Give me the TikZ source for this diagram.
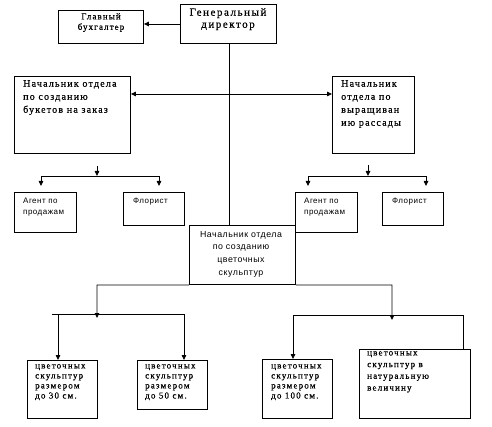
\documentclass[tikz,border=0pt]{standalone}
\usepackage{fontspec}
\setmainfont{Liberation Serif}
\newfontfamily\gdfont[LetterSpace=14,FakeBold=0.5]{Liberation Serif}
\newfontfamily\midfont[LetterSpace=12,FakeBold=0.5]{Liberation Serif}
\newfontfamily\botfont[LetterSpace=13,FakeBold=0.5]{Liberation Serif}
\newfontfamily\smsans[LetterSpace=6]{Liberation Sans}
\usetikzlibrary{arrows.meta}
\begin{document}
\begin{tikzpicture}[x=1pt,y=-1pt,
  box/.style={draw,line width=0.9pt,inner sep=0pt,anchor=north west},
  conn/.style={line width=0.8pt},
  arr/.style={conn,-{Triangle[length=5pt,width=4.5pt]}},
  dblarr/.style={conn,{Triangle[length=5pt,width=4.5pt]}-{Triangle[length=5pt,width=4.5pt]}},
  txt/.style={inner sep=0pt,align=left,anchor=north west},
  gdtxt/.style={inner sep=0pt,align=center,anchor=north,font=\gdfont\fontsize{11}{12}\selectfont},
  buhtxt/.style={inner sep=0pt,align=center,anchor=north,font=\midfont\fontsize{9}{10.5}\selectfont},
  midtxt/.style={txt,font=\midfont\fontsize{10}{13}\selectfont},
  bottxt/.style={txt,font=\botfont\fontsize{9}{10}\selectfont},
  sanstxt/.style={txt,font=\smsans\fontsize{8}{11}\selectfont},
  ctrtxt/.style={inner sep=0pt,align=center,anchor=north,font=\smsans\fontsize{8.8}{12.7}\selectfont}
]
\useasboundingbox (0,0) rectangle (492,427);

% boxes
\node[box,minimum width=96pt,minimum height=39pt] (gd) at (180,4) {};
\node[box,minimum width=85pt,minimum height=33pt] (buh) at (58,10) {};
\node[box,minimum width=116pt,minimum height=77pt] (lb) at (14,76) {};
\node[box,minimum width=82pt,minimum height=77pt] (rb) at (332,76) {};
\node[box,minimum width=62pt,minimum height=40pt] (ag1) at (14,192) {};
\node[box,minimum width=61pt,minimum height=33pt] (fl1) at (123,192) {};
\node[box,minimum width=62pt,minimum height=40pt] (ag2) at (295,192) {};
\node[box,minimum width=61pt,minimum height=33pt] (fl2) at (382,192) {};
\node[box,minimum width=106pt,minimum height=59pt] (ctr) at (189,225) {};
\node[box,minimum width=70pt,minimum height=58pt] (b1) at (27,360) {};
\node[box,minimum width=70pt,minimum height=49pt] (b2) at (137,360) {};
\node[box,minimum width=70pt,minimum height=59pt] (b3) at (262,359) {};
\node[box,minimum width=111pt,minimum height=69pt] (b4) at (359,349) {};

% texts
\node[gdtxt] (gdT) at (228,8) {Генеральный\\директор};
\node[buhtxt] (buhT) at (101,13) {Главный\\бухгалтер};
\node[midtxt] (lbT) at (23,80) {Начальник отдела\\по созданию\\букетов на заказ};
\node[midtxt] (rbT) at (341,80) {Начальник\\отдела по\\выращиван\\ию рассады};
\node[sanstxt] (ag1T) at (23,198) {Агент по\\продажам};
\node[sanstxt] (fl1T) at (133,198) {Флорист};
\node[sanstxt] (ag2T) at (304,198) {Агент по\\продажам};
\node[sanstxt] (fl2T) at (392,198) {Флорист};
\node[ctrtxt] (ctrT) at (241,231) {Начальник отдела\\по созданию\\цветочных\\скульптур};
\node[bottxt] (b1T) at (35,364) {цветочных\\скульптур\\размером\\до 30 см.};
\node[bottxt] (b2T) at (145,364) {цветочных\\скульптур\\размером\\до 50 см.};
\node[bottxt] (b3T) at (271,364) {цветочных\\скульптур\\размером\\до 100 см.};
\node[bottxt,font=\botfont\fontsize{9}{11.7}\selectfont] (b4T) at (367,351) {цветочных\\скульптур в\\натуральную\\величину};

% junction coordinates
\coordinate (hy) at (0,94);
\coordinate (vx) at (229,0);
\coordinate (lt1) at (97,166);
\coordinate (lt2) at (97,176);
\coordinate (lh1) at (41,176);
\coordinate (lh2) at (159,176);
\coordinate (rt1) at (368,165);
\coordinate (rt2) at (368,176);
\coordinate (rh1) at (308,176);
\coordinate (rh2) at (426,176);
\coordinate (bl1) at (97,285);
\coordinate (bl2) at (97,318);
\coordinate (blh1) at (52,314);
\coordinate (blh2) at (184,314);
\coordinate (blv) at (58,314);
\coordinate (br1) at (392,285);
\coordinate (br2) at (392,320);
\coordinate (brh1) at (293,315);
\coordinate (brh2) at (463,315);

% connectors
\draw[arr] (gd.west |- 0,24) -- (buh.east |- 0,24);
\draw[conn] (vx |- gd.south) -- (vx |- ctr.north);
\draw[dblarr] (lb.east |- hy) -- (rb.west |- hy);

\draw[arr] (lt1) -- (lt2);
\draw[conn] (lh1) -- (lh2);
\draw[arr,shorten >=6pt] (lh1) -- (lh1 |- ag1.north);
\draw[arr,shorten >=6pt] (lh2) -- (lh2 |- fl1.north);

\draw[arr] (rt1) -- (rt2);
\draw[conn] (rh1) -- (rh2);
\draw[arr,shorten >=6pt] (rh1) -- (rh1 |- ag2.north);
\draw[arr,shorten >=6pt] (rh2) -- (rh2 |- fl2.north);

\draw[arr] (ctr.south west) -- (bl1) -- (bl2);
\draw[conn] (blh1) -- (blh2);
\draw[arr] (blv) -- (blv |- b1.north);
\draw[arr] (blh2) -- (blh2 |- b2.north);

\draw[arr] (ctr.south east) -- (br1) -- (br2);
\draw[conn] (brh1) -- (brh2);
\draw[arr] (brh1) -- (brh1 |- b3.north);
\draw[conn] (brh2) -- (brh2 |- b4.north);
\end{tikzpicture}
\end{document}
